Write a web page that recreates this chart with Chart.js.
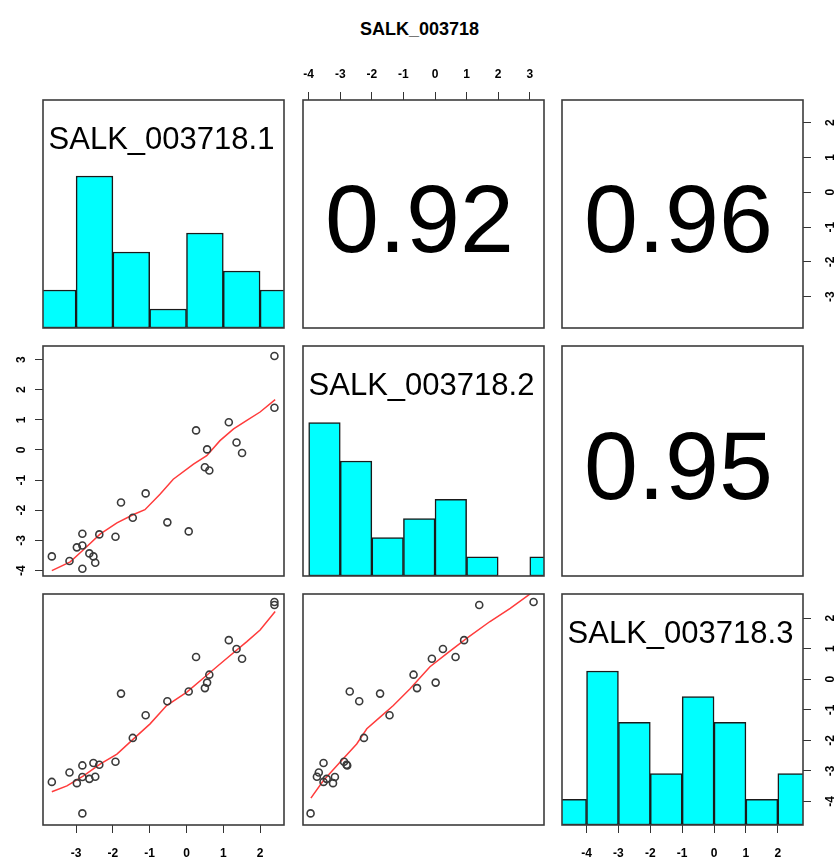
<!DOCTYPE html>
<html>
<head>
<meta charset="utf-8">
<script src="https://cdn.jsdelivr.net/npm/chart.js@4.4.1/dist/chart.umd.min.js"></script>
<style>
  body { margin: 0; background: #fff; width: 839px; height: 860px; position: relative; overflow: hidden; }
  #title { position: absolute; left: 0; top: 19px; width: 839px; text-align: center;
           font: bold 18px Arial, "Liberation Sans", sans-serif; color: #000; }
</style>
</head>
<body>
<div id="title">SALK_003718</div>
<script>
// ── DATOS ──
const varNames = ['SALK_003718.1', 'SALK_003718.2', 'SALK_003718.3'];

const sample1 = [-3.66, -3.18, -2.83, -2.98, -2.83, -2.83, -2.64, -2.53, -2.48, -2.37, -1.93, -1.78, -1.46,
                 -1.11, -0.52, 0.06, 0.26, 0.50, 0.56, 0.62, 1.15, 1.36, 1.51, 2.39, 2.39];
const sample2 = [-3.53, -3.68, -3.94, -3.23, -3.17, -2.78, -3.43, -3.53, -3.74, -2.80, -2.88, -1.74, -2.25,
                 -1.44, -2.40, -2.70, 0.65, -0.57, 0.02, -0.68, 0.92, 0.25, -0.10, 3.12, 1.40];
const sample3 = [-3.36, -3.05, -4.39, -3.40, -3.20, -2.82, -3.26, -2.74, -3.19, -2.80, -2.70, -0.47, -1.92,
                 -1.18, -0.72, -0.40, 0.73, -0.29, -0.11, 0.15, 1.28, 0.99, 0.67, 2.53, 2.43];

// histogramas de la diagonal (límites de clase y frecuencias)
const breaks1 = [-4, -3, -2, -1, 0, 1, 2, 3];
const counts1 = [2, 8, 4, 1, 5, 3, 2];
const breaks2 = [-4, -3, -2, -1, 0, 1, 2, 3, 4];
const counts2 = [8, 6, 2, 3, 4, 1, 0, 1];
const breaks3 = [-5, -4, -3, -2, -1, 0, 1, 2, 3];
const counts3 = [1, 6, 4, 2, 5, 4, 1, 2];

// curvas suavizadas (rojas)
const smooth12x = [-3.66, -3.16, -2.80, -2.35, -1.89, -1.44, -1.13, -0.72, -0.36, 0.19, 0.55, 0.91, 1.28, 1.64, 2.00, 2.41];
const smooth12y = [-4.00, -3.71, -3.31, -2.79, -2.42, -2.14, -1.98, -1.47, -0.97, -0.47, -0.19, 0.31, 0.70, 0.98, 1.26, 1.67];
const smooth13x = [-3.66, -3.25, -2.80, -2.35, -1.89, -1.44, -0.99, -0.54, 0.01, 0.55, 1.09, 1.64, 2.00, 2.41];
const smooth13y = [-3.68, -3.49, -3.16, -2.78, -2.45, -1.95, -1.46, -0.86, -0.42, 0.13, 0.68, 1.23, 1.61, 2.22];
const smooth23x = [-3.93, -3.54, -3.01, -2.48, -2.16, -1.74, -1.32, -0.79, -0.16, 0.37, 1.00, 1.74, 2.38, 3.10];
const smooth23y = [-3.89, -3.32, -2.72, -2.12, -1.62, -1.24, -0.86, -0.31, 0.41, 0.84, 1.34, 1.89, 2.32, 2.86];

// correlaciones del triángulo superior
const corr12 = 0.92, corr13 = 0.96, corr23 = 0.95;

// ── GEOMETRÍA ──
const ranges = [[-3.9, 2.65], [-4.18, 3.45], [-4.77, 2.79]];
const colLeft = [43, 303, 562];
const colWidth = 241;
const rowTop = [100, 346, 594];
const rowHeight = [228, 230, 231];
const M = 45;
const FONT = 'Arial, "Liberation Sans", sans-serif';
const tickPad = { top: 10, bottom: 13 };
const yLabelGap = { left: 21, right: 28 };

// ── PLUGIN: marco, etiquetas, coeficientes y rótulos verticales ──
const panelPlugin = {
  id: 'panel',
  afterDatasetsDraw(chart, args, o) {
    const { ctx, chartArea: a } = chart;
    const cx = (a.left + a.right) / 2, cy = (a.top + a.bottom) / 2;
    ctx.save();
    ctx.fillStyle = '#000';
    ctx.textAlign = 'center';
    ctx.textBaseline = 'alphabetic';
    if (o.label) {
      ctx.font = `31px ${FONT}`;
      ctx.fillText(o.label, cx - 2, a.top + 49);
    }
    if (o.corr != null) {
      ctx.font = `97px ${FONT}`;
      ctx.fillText(o.corr.toFixed(2), cx - 4, cy + 38);
    }
    ctx.strokeStyle = '#3c3c3c';
    ctx.lineWidth = 1.6;
    ctx.strokeRect(a.left, a.top, a.right - a.left, a.bottom - a.top);

    // rótulos del eje y girados 90°, como en R
    const ys = chart.scales.y;
    if (o.ySide) {
      const x = o.ySide === 'left' ? a.left - yLabelGap.left : a.right + yLabelGap.right;
      ctx.font = `bold 12px ${FONT}`;
      ctx.textBaseline = 'middle';
      ys.ticks.forEach(t => {
        ctx.save();
        ctx.translate(x, ys.getPixelForValue(t.value));
        ctx.rotate(-Math.PI / 2);
        ctx.fillText(String(t.value), 0, 0);
        ctx.restore();
      });
    }
    ctx.restore();
  }
};

function axisCfg(axis, range, pos) {
  const s = {
    type: 'linear', min: range[0], max: range[1], offset: false,
    display: !!pos,
    position: pos || (axis === 'x' ? 'bottom' : 'left'),
    ticks: { stepSize: 1, includeBounds: false, autoSkip: false, color: '#000',
             display: axis === 'x',
             font: { family: FONT, size: 12, weight: 'bold' }, padding: tickPad[pos] || 0 },
    grid: { drawOnChartArea: false, drawTicks: true, tickLength: 8, color: '#333', offset: false },
    border: { display: false }
  };
  if (pos) s.afterFit = sc => { if (axis === 'x') sc.height = M; else sc.width = M; };
  return s;
}

function makePanel(row, col, datasets, opts) {
  const w = colWidth, h = rowHeight[row];
  const cv = document.createElement('canvas');
  cv.width = w + 2 * M; cv.height = h + 2 * M;
  cv.style.cssText = `position:absolute;left:${colLeft[col] - M}px;top:${rowTop[row] - M}px;` +
                     `width:${w + 2 * M}px;height:${h + 2 * M}px`;
  document.body.appendChild(cv);
  const ax = opts.axes || {};
  const scales = {
    x: axisCfg('x', ranges[col], ax.x),
    y: axisCfg('y', ranges[row], ax.y)
  };
  if (opts.hist) scales.yh = { type: 'linear', display: false, min: 0, max: 1.5 };
  new Chart(cv, {
    type: 'scatter',
    data: { datasets },
    options: {
      responsive: false, animation: false, devicePixelRatio: 1,
      layout: { padding: { left: ax.y === 'left' ? 0 : M, right: ax.y === 'right' ? 0 : M,
                           top: ax.x === 'top' ? 0 : M, bottom: ax.x === 'bottom' ? 0 : M } },
      plugins: { legend: { display: false }, tooltip: { enabled: false },
                 panel: { label: opts.label, corr: opts.corr, ySide: ax.y } },
      scales
    },
    plugins: [panelPlugin]
  });
}

function histSet(breaks, counts) {
  const top = Math.max(...counts);
  return [{
    type: 'bar', yAxisID: 'yh', clip: 0,
    data: counts.map((c, i) => ({ x: (breaks[i] + breaks[i + 1]) / 2, y: c / top })),
    backgroundColor: '#00ffff', borderColor: '#1a1a1a', borderWidth: 1.5, borderSkipped: false,
    barPercentage: 1, categoryPercentage: 1
  }];
}

function scatterSets(xs, ys, sx, sy) {
  return [
    { data: xs.map((v, i) => ({ x: v, y: ys[i] })), pointRadius: 3.5, pointBorderWidth: 1.6,
      pointBorderColor: '#3a3a3a', pointBackgroundColor: 'rgba(0,0,0,0)', showLine: false, clip: 4 },
    { data: sx.map((v, i) => ({ x: v, y: sy[i] })), showLine: true, pointRadius: 0,
      borderColor: '#ff3b3b', borderWidth: 1.5, clip: 0 }
  ];
}

// ── PANELES ──
makePanel(0, 0, histSet(breaks1, counts1), { hist: true, label: varNames[0] });
makePanel(0, 1, [], { corr: corr12, axes: { x: 'top' } });
makePanel(0, 2, [], { corr: corr13, axes: { y: 'right' } });

makePanel(1, 0, scatterSets(sample1, sample2, smooth12x, smooth12y), { axes: { y: 'left' } });
makePanel(1, 1, histSet(breaks2, counts2), { hist: true, label: varNames[1] });
makePanel(1, 2, [], { corr: corr23 });

makePanel(2, 0, scatterSets(sample1, sample3, smooth13x, smooth13y), { axes: { x: 'bottom' } });
makePanel(2, 1, scatterSets(sample2, sample3, smooth23x, smooth23y), {});
makePanel(2, 2, histSet(breaks3, counts3), { hist: true, label: varNames[2], axes: { x: 'bottom', y: 'right' } });
</script>
</body>
</html>
